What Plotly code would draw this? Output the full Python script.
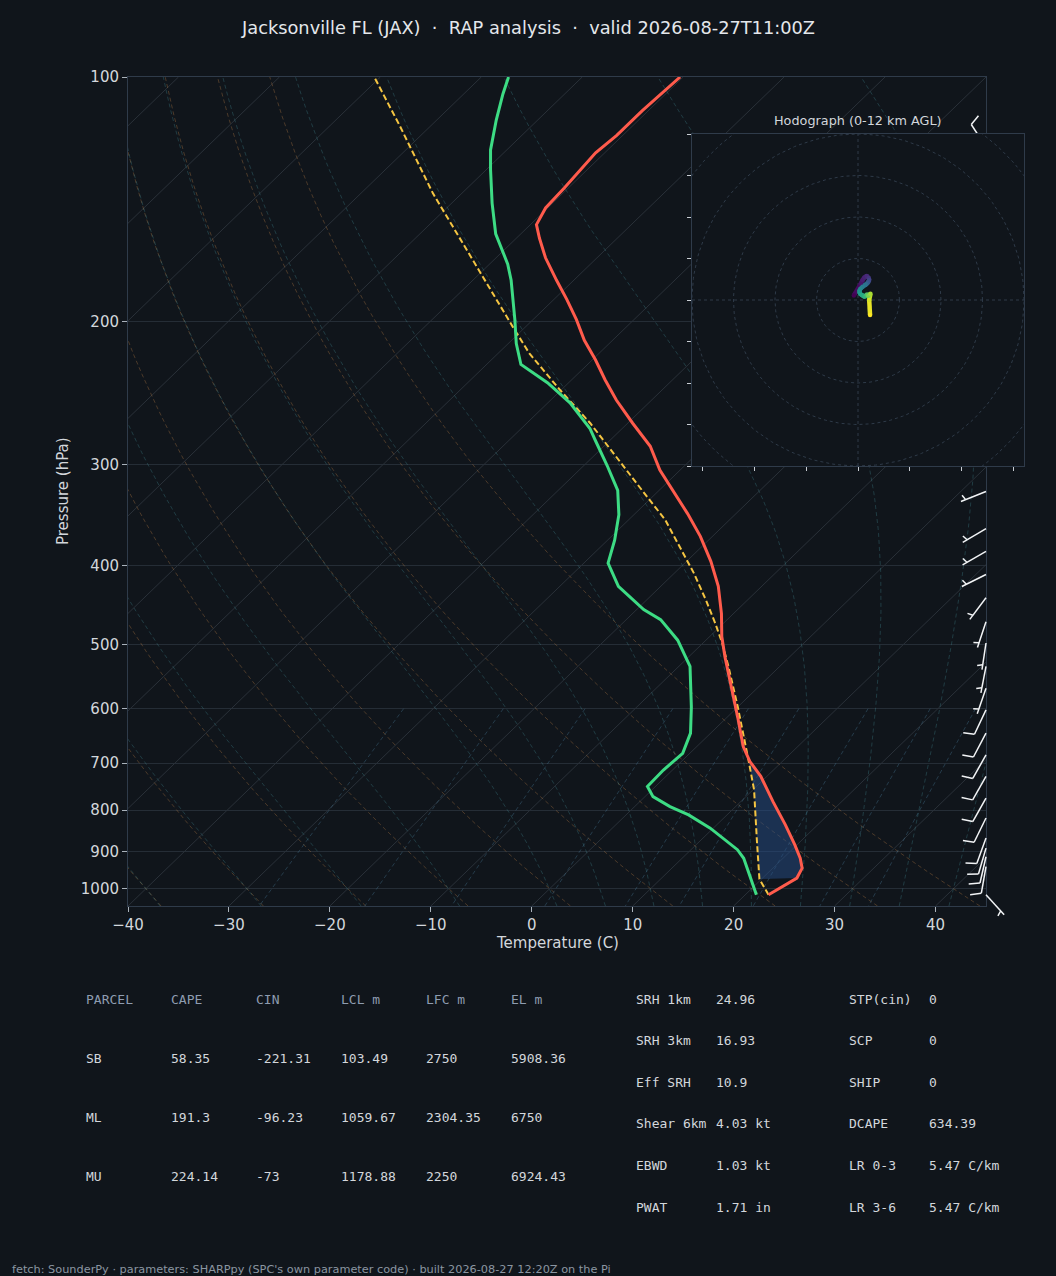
import numpy as np
import plotly.graph_objects as go
from plotly.colors import sample_colorscale

# ---- sounding (hPa, degC) ----
temp_pres = [1017, 970, 943, 917, 883, 834, 781, 727, 697, 668, 614, 564, 518, 489,
             458, 424, 395, 368, 345, 305, 285, 267, 250, 236, 223, 211, 199, 188,
             178, 167, 158, 152, 145, 137, 130, 124, 118, 110, 100]
temp_c = [22.3, 23.4, 22.9, 21.7, 19.8, 16.8, 13.2, 9.4, 6.8, 4.6, 1.0, -2.7, -6.4, -8.8,
          -11.2, -14.3, -17.6, -21.2, -24.8, -32.0, -35.4, -39.5, -43.5, -46.7, -49.7, -52.8,
          -55.7, -58.7, -61.7, -65.1, -67.7, -69.4, -70.2, -70.4, -70.7, -70.9, -70.6, -70.6, -70.3]

dewp_pres = [1017, 917, 895, 842, 811, 792, 770, 748, 714, 681, 643, 597, 532, 494,
             466, 453, 424, 397, 372, 346, 323, 301, 280, 271, 252, 238, 226, 213,
             199, 178, 170, 156, 143, 130, 123, 113, 105, 100]
dewp_c = [21.1, 16.1, 14.6, 9.7, 6.2, 3.5, 0.8, -0.8, -0.9, -0.7, -2.0, -4.6, -8.9, -12.8,
          -16.6, -19.3, -24.2, -27.6, -29.3, -31.5, -34.1, -37.7, -41.5, -43.2, -47.8, -52.1,
          -56.6, -59.2, -61.8, -66.2, -68.2, -72.5, -76.0, -79.6, -81.6, -84.1, -86.1, -87.3]

parcel_pres = [1017, 973, 870, 755, 694, 597, 532, 498, 471, 441, 409, 379, 351, 326,
               305, 267, 243, 219, 203, 165, 139, 115, 100]
parcel_c = [22.3, 19.8, 15.5, 10.1, 6.5, 0.0, -5.1, -8.1, -10.8, -14.1, -18.0, -22.2, -26.4,
            -31.1, -35.3, -43.7, -50.1, -56.9, -61.3, -73.1, -82.9, -93.0, -100.6]

lcl_pres = 973
lfc_pres = 694

# ---- winds (m/s) and heights AGL (m) ----
wind_pres = [1017, 939, 913, 891, 866, 818, 773, 727, 684, 643, 602, 566, 532, 498,
             469, 438, 410, 384, 360, 324, 290, 260, 232, 207, 184, 163, 145, 122]
wind_hgt = [0, 680, 910, 1110, 1350, 1820, 2300, 2830, 3330, 3830, 4360, 4850, 5350, 5900,
            6350, 6870, 7370, 7860, 8340, 9120, 9930, 10700, 11450, 12220, 12960, 13700, 14400, 15220]
wind_u = [-1.0, 0.7, 1.1, 1.6, 2.1, 2.6, 2.7, 2.5, 2.3, 2.0, 1.7, 1.1, 0.5, 0.3,
          0.5, 0.9, 1.6, 2.0, 2.2, 2.5, 3.0, 2.7, 2.9, 3.0, 2.9, 2.8, 2.8, 2.8]
wind_v = [1.1, 4.0, 4.8, 5.5, 5.8, 5.3, 4.8, 4.4, 4.1, 3.8, 3.6, 3.2, 2.6, 2.0,
          1.5, 1.2, 0.8, 1.15, 1.3, 1.0, 1.5, 0.0, -3.6, -4.0, -4.2, -4.3, -4.2, -4.3]
hodo_top_m = 12000

# ---- text ----
title = "Jacksonville FL (JAX)  ·  RAP analysis  ·  valid 2026-08-27T11:00Z"
footer = ("fetch: SounderPy · parameters: SHARPpy (SPC's own parameter code) · "
          "built 2026-08-27 12:20Z on the Pi")

parcel_header = ['PARCEL', 'CAPE', 'CIN', 'LCL m', 'LFC m', 'EL m']
parcel_rows = [
    ['SB', '58.35', '-221.31', '103.49', '2750', '5908.36'],
    ['ML', '191.3', '-96.23', '1059.67', '2304.35', '6750'],
    ['MU', '224.14', '-73', '1178.88', '2250', '6924.43'],
]
idx_names_a = ['SRH 1km', 'SRH 3km', 'Eff SRH', 'Shear 6km', 'EBWD', 'PWAT']
idx_values_a = ['24.96', '16.93', '10.9', '4.03 kt', '1.03 kt', '1.71 in']
idx_names_b = ['STP(cin)', 'SCP', 'SHIP', 'DCAPE', 'LR 0-3', 'LR 3-6']
idx_values_b = ['0', '0', '0', '634.39', '5.47 C/km', '5.47 C/km']

# ---- style ----
BG = '#10151b'
CLEAR = 'rgba(0,0,0,0)'
FRAME = '#2f3b4a'
GRID = '#252d36'
TXT = '#d3d7dc'
TICK = '#aab2bb'
SANS = 'DejaVu Sans, sans-serif'
MONO = 'DejaVu Sans Mono, monospace'

FIG_W, FIG_H = 1056, 1276
L, T, R, B = 128, 77, 986, 906          # skew-T box in px
HL, HT, HR, HB = 692, 134, 1024, 466    # hodograph box in px

P_BOT, P_TOP = 1050.0, 100.0
T_LEFT, T_RIGHT = -40.0, 45.0
SPAN = T_RIGHT - T_LEFT
px_deg = (R - L) / SPAN
px_dec = (B - T) / np.log10(P_BOT / P_TOP)


def skew(t, p):
    t = np.asarray(t, float)
    p = np.asarray(p, float)
    return t + SPAN * np.log(P_BOT / p) / np.log(P_BOT / P_TOP)


def dom_x(a, b):
    return [a / FIG_W, b / FIG_W]


def dom_y(top, bottom):
    return [1 - bottom / FIG_H, 1 - top / FIG_H]


def join(lines):
    xs, ys = [], []
    for x, y in lines:
        xs += [float(v) for v in x] + [None]
        ys += [float(v) for v in y] + [None]
    return xs, ys


fig = go.Figure()

# ---- background lines ----
iso = [(skew([t, t], [P_BOT, P_TOP]), [P_BOT, P_TOP]) for t in range(-120, 41, 10)]
x, y = join(iso)
fig.add_trace(go.Scatter(x=x, y=y, mode='lines', line=dict(color='#2a3139', width=1),
                         hoverinfo='skip'))

pgrid = np.linspace(P_BOT, P_TOP, 80)
dry = []
for t0 in np.arange(T_LEFT, T_RIGHT + 1, 10):
    tt = (t0 + 273.15) * (pgrid / 1000.0) ** 0.28571 - 273.15
    dry.append((skew(tt, pgrid), pgrid))
x, y = join(dry)
fig.add_trace(go.Scatter(x=x, y=y, mode='lines',
                         line=dict(color='rgba(190,130,70,0.34)', width=1, dash='4px,3px'),
                         hoverinfo='skip'))

Rd, Cp, Lv, EPS = 287.04749, 1004.6662, 2.50084e6, 0.6219569


def dtdp(p, t):
    es = 6.112 * np.exp(17.67 * (t - 273.15) / (t - 29.65))
    rs = EPS * es / (p - es)
    return (Rd * t + Lv * rs) / (Cp + Lv * Lv * rs * EPS / (Rd * t * t)) / p


def integrate(t0, p0, p1, n):
    h = (p1 - p0) / n
    p, t = p0, t0.copy()
    out = [t.copy()]
    for _ in range(n):
        k1 = dtdp(p, t)
        k2 = dtdp(p + h / 2, t + h / 2 * k1)
        k3 = dtdp(p + h / 2, t + h / 2 * k2)
        k4 = dtdp(p + h, t + h * k3)
        t = t + h / 6 * (k1 + 2 * k2 + 2 * k3 + k4)
        p += h
        out.append(t.copy())
    return np.array(out)


moist_t0 = np.concatenate((np.arange(T_LEFT, 0, 10), np.arange(0, T_RIGHT + 1, 5))) + 273.15
down = integrate(moist_t0, 1000.0, P_BOT, 10)[::-1]
up = integrate(moist_t0, 1000.0, P_TOP, 180)[1:]
moist_p = np.concatenate((np.linspace(P_BOT, 1000.0, 11), np.linspace(1000.0, P_TOP, 181)[1:]))
moist_t = np.vstack((down, up)) - 273.15
x, y = join([(skew(moist_t[:, i], moist_p), moist_p) for i in range(len(moist_t0))])
fig.add_trace(go.Scatter(x=x, y=y, mode='lines',
                         line=dict(color='rgba(70,150,160,0.3)', width=1, dash='4px,3px'),
                         hoverinfo='skip'))

mix_w = [0.0004, 0.001, 0.002, 0.004, 0.007, 0.01, 0.016, 0.024, 0.032]
mix_p = np.linspace(600, P_BOT, 40)
mix = []
for w in mix_w:
    lnr = np.log(mix_p * w / (EPS + w) / 6.112)
    td = 243.5 * lnr / (17.67 - lnr)
    mix.append((skew(td, mix_p), mix_p))
x, y = join(mix)
fig.add_trace(go.Scatter(x=x, y=y, mode='lines',
                         line=dict(color='rgba(80,140,175,0.32)', width=1, dash='4px,3px'),
                         hoverinfo='skip'))

# ---- CIN shading between parcel and environment ----
pc = [(p, t) for p, t in zip(parcel_pres, parcel_c) if lfc_pres <= p <= lcl_pres]
ev = sorted([(p, t) for p, t in zip(temp_pres, temp_c) if lfc_pres <= p <= lcl_pres])
poly_p = [p for p, _ in pc] + [p for p, _ in ev]
poly_t = [t for _, t in pc] + [t for _, t in ev]
fig.add_trace(go.Scatter(x=skew(poly_t, poly_p), y=poly_p, mode='lines', fill='toself',
                         fillcolor='rgba(38,78,135,0.5)', line=dict(width=0),
                         hoverinfo='skip'))

# ---- profiles ----
fig.add_trace(go.Scatter(x=skew(parcel_c, parcel_pres), y=parcel_pres, mode='lines',
                         line=dict(color='#f5c542', width=2, dash='6px,3px')))
fig.add_trace(go.Scatter(x=skew(dewp_c, dewp_pres), y=dewp_pres, mode='lines',
                         line=dict(color='#3ddc84', width=3)))
fig.add_trace(go.Scatter(x=skew(temp_c, temp_pres), y=temp_pres, mode='lines',
                         line=dict(color='#ff5b4c', width=3)))

# ---- wind barbs (overlay axes with the same scale, a little larger box) ----
EXT_R, EXT_B = 50, 40
BARB_L = 27.0


def barb(u, v, p):
    spd = 5 * round(np.hypot(u, v) * 1.94384 / 5)
    mag = np.hypot(u, v)
    sE, sN = -u / mag, -v / mag
    qE, qN = sN, -sE

    def pt(dE, dN):
        return float(T_RIGHT + dE / px_deg), float(10 ** (np.log10(p) - dN / px_dec))

    segs = []
    tip = (BARB_L * sE, BARB_L * sN)
    segs.append([pt(0, 0), pt(*tip)])
    flags, rest = divmod(spd, 50)
    full, rest = divmod(rest, 10)
    sp = 0.125 * BARB_L
    off = BARB_L
    for _ in range(int(full)):
        b0 = (off * sE, off * sN)
        b1 = (b0[0] + 0.4 * BARB_L * qE + 0.125 * BARB_L * sE,
              b0[1] + 0.4 * BARB_L * qN + 0.125 * BARB_L * sN)
        segs.append([pt(*b0), pt(*b1)])
        off -= sp
    if rest >= 5:
        if off == BARB_L:
            off -= 1.5 * sp
        b0 = (off * sE, off * sN)
        b1 = (b0[0] + 0.2 * BARB_L * qE + 0.0625 * BARB_L * sE,
              b0[1] + 0.2 * BARB_L * qN + 0.0625 * BARB_L * sN)
        segs.append([pt(*b0), pt(*b1)])
    return segs


bx, by = [], []
for u, v, p in zip(wind_u, wind_v, wind_pres):
    for seg in barb(u, v, p):
        bx += [seg[0][0], seg[1][0], None]
        by += [seg[0][1], seg[1][1], None]
fig.add_trace(go.Scatter(x=bx, y=by, mode='lines', xaxis='x2', yaxis='y2',
                         line=dict(color='#f2f4f6', width=1.5), hoverinfo='skip'))

# ---- hodograph inset ----
HR_MAX = 40
fig.add_trace(go.Scatter(x=[-HR_MAX, HR_MAX, HR_MAX, -HR_MAX, -HR_MAX],
                         y=[-HR_MAX, -HR_MAX, HR_MAX, HR_MAX, -HR_MAX],
                         mode='lines', fill='toself', fillcolor=BG, line=dict(width=0),
                         xaxis='x3', yaxis='y3', hoverinfo='skip'))
th = np.linspace(0, 2 * np.pi, 241)
rings = [(r * np.cos(th), r * np.sin(th)) for r in range(10, 51, 10)]
rings += [([-HR_MAX, HR_MAX], [0, 0]), ([0, 0], [-HR_MAX, HR_MAX])]
x, y = join(rings)
fig.add_trace(go.Scatter(x=x, y=y, mode='lines', xaxis='x3', yaxis='y3',
                         line=dict(color='#2e3a48', width=1, dash='3px,3px'), hoverinfo='skip'))

hu = [u for u, h in zip(wind_u, wind_hgt) if h <= hodo_top_m]
hv = [v for v, h in zip(wind_v, wind_hgt) if h <= hodo_top_m]
hh = [h for h in wind_hgt if h <= hodo_top_m]
hmax = max(hh)
for i in range(len(hu) - 1):
    c = sample_colorscale('Viridis', [(hh[i] + hh[i + 1]) / 2 / hmax])[0]
    fig.add_trace(go.Scatter(x=hu[i:i + 2], y=hv[i:i + 2], mode='lines', xaxis='x3', yaxis='y3',
                             line=dict(color=c, width=4.5), hoverinfo='skip'))
fig.add_trace(go.Scatter(x=hu, y=hv, mode='markers', xaxis='x3', yaxis='y3',
                         marker=dict(size=4.5, color=hh, colorscale='Viridis', cmin=0, cmax=hmax),
                         hoverinfo='skip'))


# ---- text ----
def label(x, y, text, size, color, family=SANS, anchor='left', angle=0):
    return dict(x=x / FIG_W, y=1 - y / FIG_H, xref='paper', yref='paper', text=text,
                showarrow=False, xanchor=anchor, yanchor='middle', textangle=angle,
                font=dict(family=family, size=size, color=color))


ann = [
    label(528, 27, title, 17.8, '#e4e7eb', anchor='center'),
    label(557, 943, 'Temperature (C)', 15, TXT, anchor='center'),
    label(63, 491, 'Pressure (hPa)', 15, TXT, anchor='center', angle=-90),
    label(858, 120, 'Hodograph (0-12 km AGL)', 12.8, TXT, anchor='center'),
    label(10, 1269, footer, 11.3, '#8b95a1'),
]
col_x = [84, 169, 254, 339, 424, 509]
for cx, txt in zip(col_x, parcel_header):
    ann.append(label(cx, 999, txt, 13, '#8e9cb0', family=MONO))
for r, row in enumerate(parcel_rows):
    for cx, txt in zip(col_x, row):
        ann.append(label(cx, 1058 + 59 * r, txt, 13, TXT, family=MONO))
for i in range(len(idx_names_a)):
    yy = 999 + 41.6 * i
    ann.append(label(634, yy, idx_names_a[i], 13, TXT, family=MONO))
    ann.append(label(714, yy, idx_values_a[i], 13, TXT, family=MONO))
    ann.append(label(847, yy, idx_names_b[i], 13, TXT, family=MONO))
    ann.append(label(927, yy, idx_values_b[i], 13, TXT, family=MONO))

tickfont = dict(family=SANS, size=15, color=TXT)
fig.update_layout(
    width=FIG_W, height=FIG_H, margin=dict(l=0, r=0, t=0, b=0, autoexpand=False),
    paper_bgcolor=BG, plot_bgcolor=CLEAR, showlegend=False, annotations=ann,
    xaxis=dict(domain=dom_x(L, R), range=[T_LEFT, T_RIGHT], tickvals=list(range(-40, 41, 10)),
               showgrid=False, zeroline=False, showline=True, mirror=True, linecolor=FRAME,
               ticks='outside', ticklen=5, tickcolor=TICK, tickfont=tickfont, anchor='y',
               automargin=False),
    yaxis=dict(domain=dom_y(T, B), type='log', range=[float(np.log10(P_BOT)), float(np.log10(P_TOP))],
               tickvals=list(range(100, 1001, 100)), ticktext=[str(v) for v in range(100, 1001, 100)],
               showgrid=True, gridcolor=GRID, gridwidth=1, zeroline=False, showline=True,
               mirror=True, linecolor=FRAME, ticks='outside', ticklen=5, tickcolor=TICK,
               tickfont=tickfont, anchor='x', automargin=False),
    xaxis2=dict(domain=dom_x(L, R + EXT_R), range=[T_LEFT, float(T_RIGHT + EXT_R / px_deg)],
                visible=False, anchor='y2', automargin=False),
    yaxis2=dict(domain=dom_y(T, B + EXT_B), type='log',
                range=[float(np.log10(P_BOT) + EXT_B / px_dec), float(np.log10(P_TOP))],
                visible=False, anchor='x2', automargin=False),
    xaxis3=dict(domain=dom_x(HL, HR), range=[-HR_MAX, HR_MAX], showgrid=False, zeroline=False,
                showline=True, mirror=True, linecolor=FRAME, ticks='outside', ticklen=4,
                tickcolor='#c9ced4', showticklabels=False, automargin=False,
                tickvals=[-37.5, -25, -12.5, 0, 12.5, 25, 37.5], anchor='y3'),
    yaxis3=dict(domain=dom_y(HT, HB), range=[-HR_MAX, HR_MAX], showgrid=False, zeroline=False,
                showline=True, mirror=True, linecolor=FRAME, ticks='outside', ticklen=4,
                tickcolor='#c9ced4', showticklabels=False, automargin=False,
                tickvals=list(range(-40, 41, 10)), anchor='x3'),
)

fig.write_html("out.html", config={'displayModeBar': False},
               post_script="document.body.style.margin='0';"
                           "document.body.style.background='%s';" % BG)
